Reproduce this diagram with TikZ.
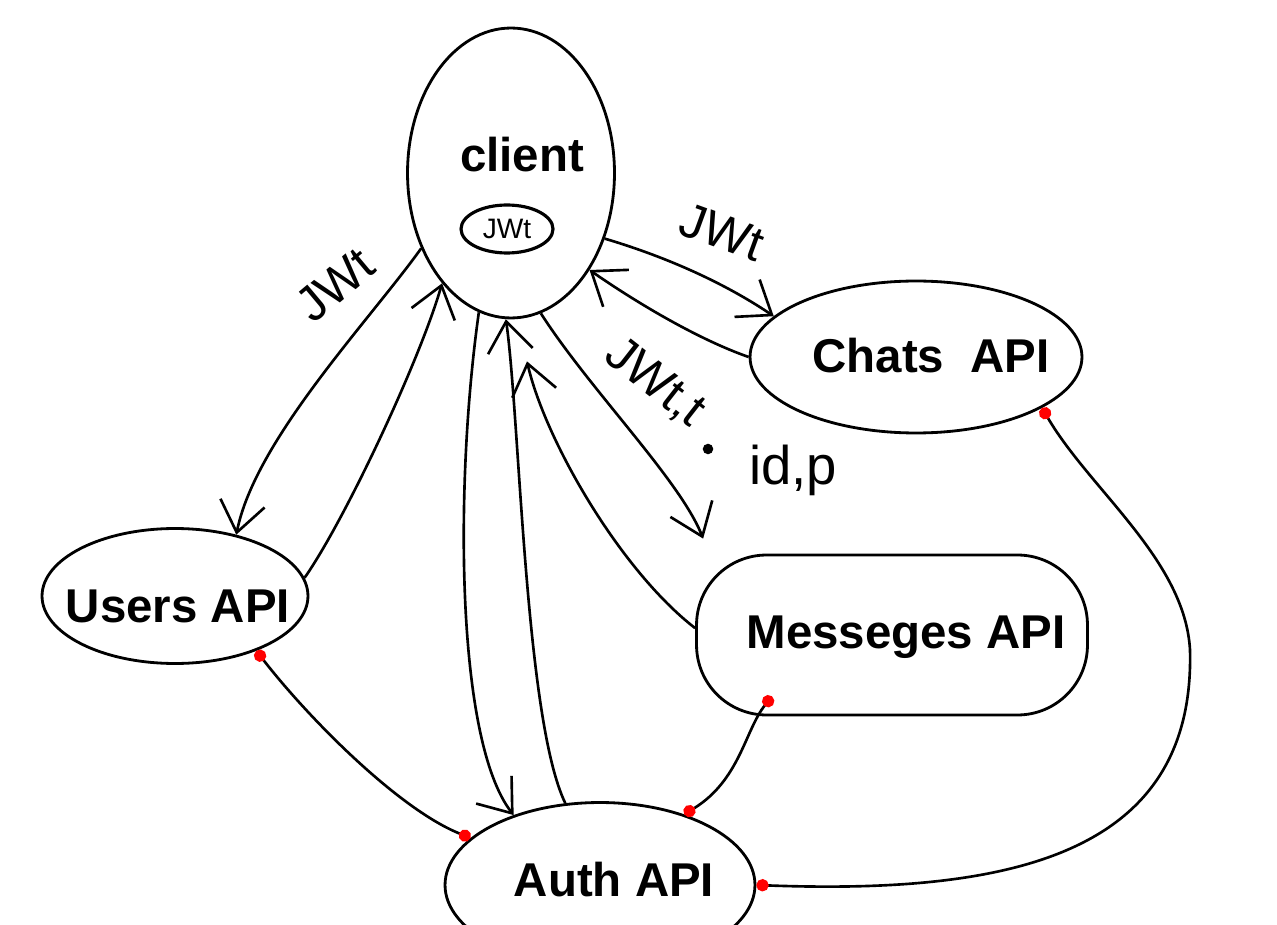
\documentclass[tikz,border=0pt]{standalone}
\usepackage{fontspec}
\setmainfont{Liberation Sans}
\usetikzlibrary{shapes.geometric,arrows.meta,calc}
\begin{document}
\begin{tikzpicture}[x=0.02cm,y=-0.02cm,
  blob/.style={draw,ellipse,line width=1.6pt,inner sep=0pt},
  title/.style={font=\fontsize{27}{30}\selectfont\bfseries,anchor=base},
  hand/.style={font=\fontsize{28}{30}\selectfont},
  conn/.style={line width=1.5pt},
  arr/.style={conn,-{Straight Barb[length=0.6cm,width=0.9cm,line width=1.5pt]}},
  link/.style={conn,{Circle[red,length=7pt]}-{Circle[red,length=7pt]}}
]
\clip (0,0) rectangle (1277,925);
\fill[white] (0,0) rectangle (1277,925);

% nodes
\node[blob,minimum width=4.14cm,minimum height=5.8cm] (client) at (511,173) {};
\node[title] (clientt) at (522,172) {client};
\node[draw,ellipse,line width=1.8pt,minimum width=1.84cm,minimum height=0.96cm,inner sep=0pt,font=\fontsize{16}{18}\selectfont] (jwt) at (507,229) {JWt};
\node[blob,minimum width=6.64cm,minimum height=3.04cm] (chats) at (916,357) {};
\node[title] (chatst) at (931,373) {Chats\ \ API};
\node[blob,minimum width=5.32cm,minimum height=2.7cm] (users) at (175,596) {};
\node[title] (userst) at (178,622) {Users API};
\node[draw,rectangle,rounded corners=1.4cm,line width=1.6pt,minimum width=7.82cm,minimum height=3.2cm] (mess) at (892,635) {};
\node[title] (messt) at (906,648) {Messeges API};
\node[blob,minimum width=6.2cm,minimum height=3.3cm] (auth) at (600,885) {};
\node[title] (autht) at (614,896) {Auth API};

% arrows
\draw[arr] (client.220) .. controls (370,320) and (255,440) .. (users.45);
\draw[arr] (users.8) .. controls (345,520) and (420,360) .. (client.238);
\draw[arr] (client.257) .. controls (455,480) and (455,740) .. (auth.141);
\draw[arr] (auth.113) .. controls (525,720) and (520,420) .. (client.268);
\draw[arr] (client.282) .. controls (590,390) and (680,480) .. ($(mess.north west)+(8,-15)$);
\draw[arr] (mess.178) .. controls (620,570) and (545,440) .. ($(client.south)+(16,42)$);
\draw[arr] (client.325) .. controls (660,255) and (720,280) .. (chats.164);
\draw[arr] (chats.west) .. controls (700,340) and (640,305) .. (client.309);

% links with red dots
\draw[link] (users.326) .. controls (310,720) and (400,810) .. (auth.160);
\draw[link] ($(mess.south)+(-120,-20)$) .. controls (745,730) and (740,780) .. (auth.40);
\draw[link] (chats.338) .. controls (1090,490) and (1185,560) .. (1190,650) .. controls (1195,850) and (1020,895) .. (auth.east);

% labels
\node[hand,rotate=40] (l1) at (335,285) {JWt};
\node[hand,rotate=-20] (l2) at (722,232) {JWt};
\node[hand,rotate=-38] (l3) at (655,383) {JWt,t};
\fill (708,449) circle[radius=3pt];
\node[hand,font=\fontsize{31}{33}\selectfont] (l4) at (793,470) {id,p};
\end{tikzpicture}
\end{document}
